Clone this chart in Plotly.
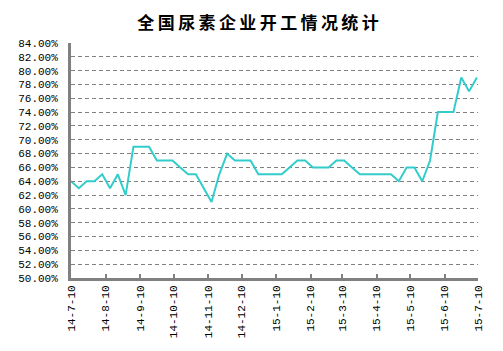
import plotly.graph_objects as go
import pandas as pd

start_date = "2014-07-10"
rates = [64, 63, 64, 64, 65, 63, 65, 62, 69, 69, 69, 67, 67, 67, 66, 65, 65, 63, 61, 65,
         68, 67, 67, 67, 65, 65, 65, 65, 66, 67, 67, 66, 66, 66, 67, 67, 66, 65, 65, 65,
         65, 65, 64, 66, 66, 64, 67, 74, 74, 74, 79, 77, 79]
dates = pd.date_range(start_date, periods=len(rates), freq="7D")

tick_dates = ["2014-07-10", "2014-08-10", "2014-09-10", "2014-10-10", "2014-11-10",
              "2014-12-10", "2015-01-10", "2015-02-10", "2015-03-10", "2015-04-10",
              "2015-05-10", "2015-06-10", "2015-07-10"]
tick_labels = ["14-7-10", "14-8-10", "14-9-10", "14-10-10", "14-11-10", "14-12-10",
               "15-1-10", "15-2-10", "15-3-10", "15-4-10", "15-5-10", "15-6-10", "15-7-10"]
y_ticks = list(range(50, 85, 2))
title_text = "全国尿素企业开工情况统计"

fig = go.Figure()
fig.add_trace(go.Scatter(x=dates, y=rates, mode="lines",
                         line=dict(color="#33CCCC", width=2), showlegend=False))

fig.update_layout(
    width=503, height=351,
    margin=dict(l=71, r=25, t=43, b=73),
    paper_bgcolor="white", plot_bgcolor="white",
    title=dict(text="<b>" + "\u2009".join(title_text) + "</b>", x=0.513, xanchor="center",
               y=0.935, yanchor="middle",
               font=dict(family="Noto Sans CJK SC", size=17, color="black")),
    font=dict(family="Liberation Mono", size=11, color="black"),
)
fig.update_xaxes(
    type="date", range=[tick_dates[0], tick_dates[-1]],
    tickvals=tick_dates, ticktext=tick_labels, tickangle=-90,
    showgrid=False, showline=True, linecolor="#808080", linewidth=3,
    ticks="inside", ticklen=4, tickcolor="#808080", tickwidth=2,
    tickfont=dict(family="Liberation Mono", size=11, color="black"),
    zeroline=False,
)
fig.update_yaxes(
    range=[50, 84], tickvals=y_ticks, ticktext=[f"{v:.2f}%" for v in y_ticks],
    showgrid=True, gridcolor="#808080", griddash="4px,3px", gridwidth=1,
    showline=True, linecolor="#808080", linewidth=3,
    ticks="inside", ticklen=4, tickcolor="#808080", tickwidth=1,
    ticklabelstandoff=8,
    tickfont=dict(family="Liberation Mono", size=11, color="black"),
    zeroline=False,
)
fig.write_html("out.html")
